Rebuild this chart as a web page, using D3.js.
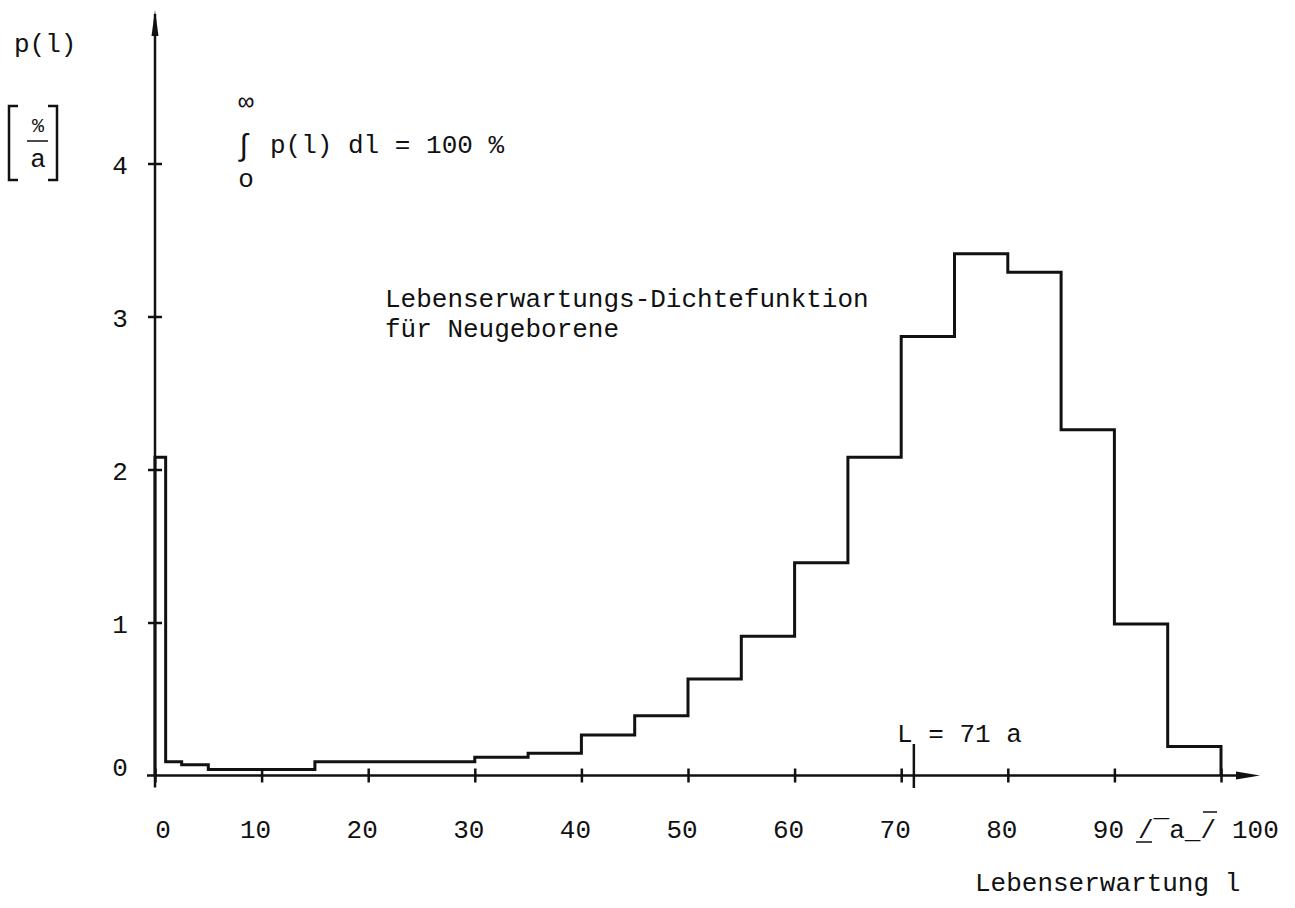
<!DOCTYPE html>
<html><head><meta charset="utf-8">
<script src="https://cdn.jsdelivr.net/npm/d3@7"></script>
<style>
html,body{margin:0;padding:0;background:#fff;}
svg text{font-family:"Liberation Mono","Courier New",monospace;fill:#111;}
</style></head>
<body>
<script>
// ---- data ----
const binEdges = [0,1,2.5,5,15,30,35,40,45,50,55,60,65,70,75,80,85,90,95,100];
const density  = [2.08,0.09,0.07,0.04,0.09,0.12,0.145,0.265,0.39,0.63,0.91,1.39,2.08,2.87,3.41,3.29,2.26,0.99,0.19];
const xTicks = [0,10,20,30,40,50,60,70,80,90,100];
const xTickLabels = ["0","10","20","30","40","50","60","70","80","90","100"];
const yTicks = [0,1,2,3,4];
const yTickLabels = ["0","1","2","3","4"];
const meanLife = 71;

const W = 1295, H = 908;
const svg = d3.select("body").append("svg").attr("width", W).attr("height", H);

const x = d3.scaleLinear().domain([0,100]).range([155,1221]);
const y = d3.scaleLinear().domain([0,4]).range([775.5,163.5]);
const FS = 26;

// axes
const g = svg.append("g").attr("stroke","#111").attr("fill","none");
g.append("line").attr("x1", x(0)).attr("x2", x(0)).attr("y1", y(0)+12).attr("y2", 14).attr("stroke-width",2.5);
svg.append("path").attr("d", `M${x(0)-3.5},36 L${x(0)},10 L${x(0)+3.5},36 Z`).attr("fill","#111");
g.append("line").attr("x1", x(0)-8).attr("x2", 1245).attr("y1", y(0)).attr("y2", y(0)).attr("stroke-width",2.5);
svg.append("path").attr("d", `M1236,${y(0)-4} L1260,${y(0)} L1236,${y(0)+4} Z`).attr("fill","#111");

// x ticks
const xa = d3.axisBottom(x).tickValues(xTicks).tickSizeInner(6).tickSizeOuter(0).tickFormat("");
const gx = svg.append("g").attr("transform", `translate(0,${y(0)})`).call(xa);
gx.select(".domain").remove();
gx.selectAll(".tick line").attr("y1",-7).attr("y2",7).attr("stroke","#111").attr("stroke-width",2.5);

svg.append("g").selectAll("text").data(xTicks.slice(0,-1)).join("text")
  .attr("x", d => x(d) + (d===0?8:-6)).attr("y", 838)
  .attr("text-anchor","middle").attr("font-size",FS).text((d,i)=>xTickLabels[i]);
svg.append("text").attr("x", 1232).attr("y", 838).attr("font-size",FS).text(xTickLabels[10]);

// unit bracket "/‾a_/"
svg.append("text").attr("x", 1138).attr("y", 838).attr("font-size",FS).text("/‾a_/");
svg.append("line").attr("x1",1136).attr("x2",1152).attr("y1",842).attr("y2",842).attr("stroke","#111").attr("stroke-width",1.5);
svg.append("line").attr("x1",1203).attr("x2",1217).attr("y1",812).attr("y2",812).attr("stroke","#111").attr("stroke-width",1.5);

// y ticks
const ya = d3.axisLeft(y).tickValues(yTicks.slice(1)).tickSizeInner(6).tickSizeOuter(0).tickFormat("");
const gy = svg.append("g").attr("transform", `translate(${x(0)},0)`).call(ya);
gy.select(".domain").remove();
gy.selectAll(".tick line").attr("x1",-7).attr("x2",7).attr("stroke","#111").attr("stroke-width",2.5);
svg.append("g").selectAll("text").data(yTicks).join("text")
  .attr("x", 120).attr("y", d => y(d) + (d===0?0:10)).attr("text-anchor","middle")
  .attr("font-size",FS).text((d,i)=>yTickLabels[i]);

// step function
const pts = [[0,0]];
density.forEach((v,i)=>{ pts.push([binEdges[i],v]); pts.push([binEdges[i+1],v]); });
pts.push([100,0]);
svg.append("path").datum(pts)
  .attr("d", d3.line().x(d=>x(d[0])).y(d=>y(d[1])))
  .attr("fill","none").attr("stroke","#111").attr("stroke-width",3).attr("stroke-linejoin","miter");

// mean marker
svg.append("line").attr("x1",x(meanLife)+2).attr("x2",x(meanLife)+2).attr("y1",744).attr("y2",788)
  .attr("stroke","#111").attr("stroke-width",2.5);
svg.append("text").attr("x",897).attr("y",742).attr("font-size",FS).text("L = " + meanLife + " a");

// y-axis label
svg.append("text").attr("x",14).attr("y",52).attr("font-size",FS).text("p(l)");
const br = svg.append("g").attr("stroke","#111").attr("fill","none").attr("stroke-width",2.5);
br.append("path").attr("d","M18,106 L9,106 L9,180 L18,180");
br.append("path").attr("d","M48,106 L57,106 L57,180 L48,180");
br.append("line").attr("x1",27).attr("x2",48).attr("y1",141).attr("y2",141).attr("stroke-width",1.5);
svg.append("text").attr("x",38).attr("y",132).attr("text-anchor","middle").attr("font-size",20).text("%");
svg.append("text").attr("x",38).attr("y",167).attr("text-anchor","middle").attr("font-size",FS).text("a");

// integral annotation
svg.append("text").attr("x",246).attr("y",110).attr("text-anchor","middle").attr("font-size",FS).text("∞");
svg.append("text").attr("x",244).attr("y",155).attr("text-anchor","middle").attr("font-size",30).text("∫");
svg.append("text").attr("x",246).attr("y",187).attr("text-anchor","middle").attr("font-size",FS).text("o");
svg.append("text").attr("x",270).attr("y",153).attr("font-size",FS).text("p(l) dl = 100 %");

// curve label
svg.append("text").attr("x",385).attr("y",307).attr("font-size",FS).text("Lebenserwartungs-Dichtefunktion");
svg.append("text").attr("x",385).attr("y",337).attr("font-size",FS).text("für Neugeborene");

// x-axis title
svg.append("text").attr("x",975).attr("y",891).attr("font-size",FS).text("Lebenserwartung l");
</script>
</body></html>
